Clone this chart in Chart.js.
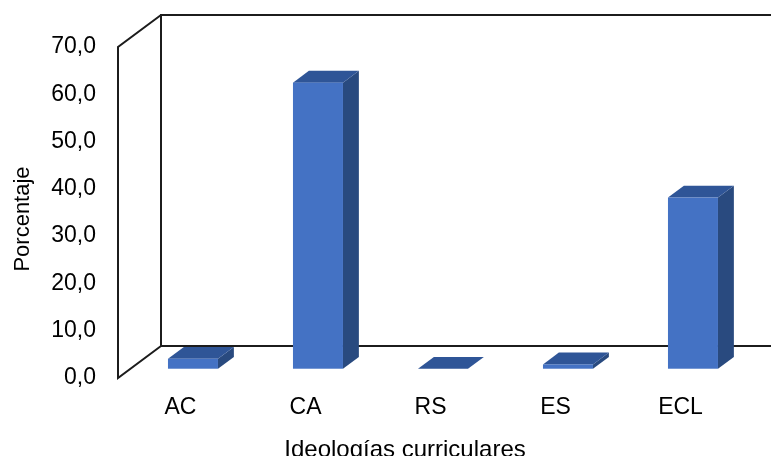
<!DOCTYPE html>
<html>
<head>
<meta charset="utf-8">
<script src="https://cdn.jsdelivr.net/npm/chart.js@4.4.1/dist/chart.umd.min.js"></script>
<style>
  html, body { margin: 0; padding: 0; background: #fff; }
  #wrap { width: 771px; height: 456px; }
</style>
</head>
<body>
<div id="wrap"><canvas id="chart" width="771" height="456"></canvas></div>
<script>
const categories  = ['AC', 'CA', 'RS', 'ES', 'ECL'];
const percentages = [2.1, 60.5, 0.0, 0.9, 36.2];
const yTicks      = [0, 10, 20, 30, 40, 50, 60, 70];

const FONT = "'Liberation Sans', Arial, sans-serif";

// oblique depth of the 3D box (floor runs from front edge to back wall)
const DEPTH_X = 43, DEPTH_Y = -32;
const BAR_FRONT = 0.29, BAR_BACK = 0.66;

const FRONT = '#4472C4', TOP = '#2F5597', SIDE = '#294A7F';
const LINE  = '#1c1c1c';

function poly(ctx, pts) {
    ctx.beginPath();
    ctx.moveTo(pts[0][0], pts[0][1]);
    for (let i = 1; i < pts.length; i++) ctx.lineTo(pts[i][0], pts[i][1]);
    ctx.closePath();
    ctx.fill();
}

const box3d = {
    id: 'box3d',
    beforeDatasetsDraw(chart) {
        const { ctx, chartArea: a } = chart;
        ctx.save();
        ctx.strokeStyle = LINE;
        ctx.lineWidth = 2;
        ctx.beginPath();
        // back wall
        ctx.moveTo(a.right + DEPTH_X, a.top + DEPTH_Y);
        ctx.lineTo(a.left + DEPTH_X, a.top + DEPTH_Y);
        ctx.lineTo(a.left + DEPTH_X, a.bottom + DEPTH_Y);
        ctx.lineTo(a.right + DEPTH_X, a.bottom + DEPTH_Y);
        // side wall
        ctx.moveTo(a.left + DEPTH_X, a.top + DEPTH_Y);
        ctx.lineTo(a.left, a.top);
        ctx.lineTo(a.left, a.bottom);
        ctx.lineTo(a.left + DEPTH_X, a.bottom + DEPTH_Y);
        ctx.stroke();
        ctx.restore();
    },
    beforeDatasetDraw(chart, args) {
        const ctx = chart.ctx;
        const fx = BAR_FRONT * DEPTH_X, fy = BAR_FRONT * DEPTH_Y;
        const dx = (BAR_BACK - BAR_FRONT) * DEPTH_X, dy = (BAR_BACK - BAR_FRONT) * DEPTH_Y;
        ctx.save();
        args.meta.data.forEach(function (bar) {
            const p = bar.getProps(['x', 'y', 'base', 'width'], true);
            const l = p.x - p.width / 2 + fx, r = p.x + p.width / 2 + fx;
            const t = p.y + fy, b = p.base + fy;
            ctx.fillStyle = SIDE;
            poly(ctx, [[r, t], [r + dx, t + dy], [r + dx, b + dy], [r, b]]);
            ctx.fillStyle = TOP;
            poly(ctx, [[l, t], [l + dx, t + dy], [r + dx, t + dy], [r, t]]);
            ctx.fillStyle = FRONT;
            ctx.fillRect(l, t, r - l, b - t);
        });
        ctx.restore();
        return false;
    },
    afterDraw(chart) {
        // axis titles
        const ctx = chart.ctx;
        ctx.save();
        ctx.fillStyle = '#000';
        ctx.textAlign = 'center';
        ctx.textBaseline = 'middle';
        ctx.font = '24px ' + FONT;
        ctx.fillText('Ideologías curriculares', 405, 450);
        ctx.translate(23, 219);
        ctx.rotate(-Math.PI / 2);
        ctx.font = '22px ' + FONT;
        ctx.fillText('Porcentaje', 0, 0);
        ctx.restore();
    }
};

new Chart(document.getElementById('chart'), {
    type: 'bar',
    data: {
        labels: categories,
        datasets: [{
            data: percentages,
            backgroundColor: FRONT,
            categoryPercentage: 0.8,
            barPercentage: 0.5,
        }]
    },
    options: {
        responsive: false,
        animation: false,
        events: [],
        layout: { padding: { top: 47, right: 28, left: 0, bottom: 0 } },
        plugins: { legend: { display: false }, tooltip: { enabled: false } },
        scales: {
            x: {
                grid: { display: false, drawTicks: false },
                border: { display: false },
                ticks: { font: { family: FONT, size: 23 }, color: '#000', padding: 16 },
                afterFit: function (s) { s.height = 78; }
            },
            y: {
                min: 0,
                max: 70,
                grid: { display: false, drawTicks: false },
                border: { display: false },
                afterBuildTicks: function (s) { s.ticks = yTicks.map(v => ({ value: v })); },
                ticks: {
                    font: { family: FONT, size: 23 },
                    color: '#000',
                    padding: 22,
                    callback: v => v.toFixed(1).replace('.', ',')
                },
                afterFit: function (s) { s.width = 118; }
            }
        }
    },
    plugins: [box3d]
});
</script>
</body>
</html>
